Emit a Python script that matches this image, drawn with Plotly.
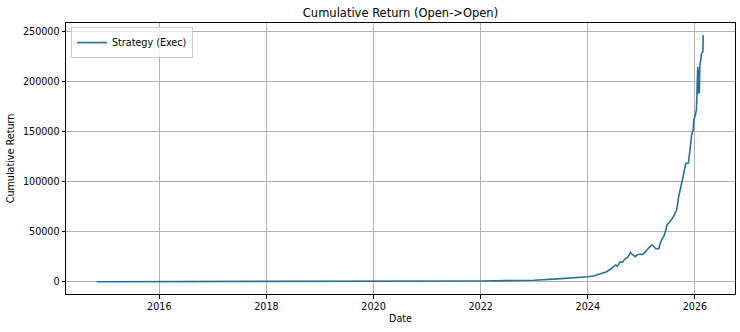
import plotly.graph_objects as go

dates = [
    "2014-10-31", "2015-06-01", "2016-01-01", "2017-01-01", "2018-01-01",
    "2019-01-01", "2020-01-01", "2021-01-01", "2022-01-01", "2022-07-01",
    "2022-10-01", "2023-01-01", "2023-05-15", "2023-10-01", "2024-01-01",
    "2024-02-09", "2024-03-28", "2024-04-08", "2024-05-10", "2024-06-05",
    "2024-06-27", "2024-07-08", "2024-07-22", "2024-08-10", "2024-08-24",
    "2024-09-15", "2024-09-30", "2024-10-18", "2024-11-02", "2024-11-20",
    "2024-12-04", "2024-12-26", "2025-01-08", "2025-01-30", "2025-02-20",
    "2025-03-14", "2025-03-25", "2025-04-09", "2025-04-30", "2025-05-08",
    "2025-05-22", "2025-06-02", "2025-06-13", "2025-06-24", "2025-07-05",
    "2025-07-20", "2025-07-31", "2025-08-14", "2025-08-29", "2025-09-12",
    "2025-10-01", "2025-10-12", "2025-10-30", "2025-11-17", "2025-11-28",
    "2025-12-09", "2025-12-20", "2025-12-24", "2026-01-04", "2026-01-11",
    "2026-01-20", "2026-01-24", "2026-01-27", "2026-01-31", "2026-02-03",
    "2026-02-15", "2026-02-24", "2026-02-26",
]
cum_return = [
    1, 2, 4, 12, 35,
    90, 200, 400, 750, 1050,
    1100, 1500, 2600, 3800, 5000,
    5700, 8000, 8400, 10000, 12700,
    16000, 16700, 15500, 20000, 19500,
    23400, 24500, 29400, 27000, 25000,
    27000, 27700, 27200, 30000, 34000,
    36700, 35700, 33000, 33000, 38000,
    43000, 45000, 50000, 56700, 58400,
    61000, 63400, 67000, 71700, 85000,
    100000, 105000, 118400, 118400, 131700,
    146700, 152000, 161700, 166700, 172000,
    215000, 188000, 212000, 188400, 215000,
    228400, 230000, 246700,
]

y_ticks = [0, 50000, 100000, 150000, 200000, 250000]
x_tick_dates = ["2016-01-01", "2018-01-01", "2020-01-01", "2022-01-01", "2024-01-01", "2026-01-01"]
x_tick_text = ["2016", "2018", "2020", "2022", "2024", "2026"]

FONT = "DejaVu Sans"
LINE_COLOR = "#2a6f98"

fig = go.Figure()
fig.add_trace(go.Scatter(
    x=dates, y=cum_return, mode="lines", name="Strategy (Exec)",
    line=dict(color=LINE_COLOR, width=1.6),
))

axis_common = dict(
    showline=True, mirror=True, linecolor="black", linewidth=1,
    ticks="outside", ticklen=3.5, tickwidth=0.8, tickcolor="black",
    showgrid=True, gridcolor="#b0b0b0", gridwidth=0.8,
    zeroline=False,
    tickfont=dict(family=FONT, size=9.6, color="black"),
)

fig.update_layout(
    width=740, height=332,
    margin=dict(l=66, r=5, t=23, b=38),
    paper_bgcolor="white", plot_bgcolor="white",
    font=dict(family=FONT, size=9.6, color="black"),
    title=dict(
        text="Cumulative Return (Open->Open)",
        x=0.5, xref="paper", xanchor="center",
        y=1 - 12.5 / 332, yref="container", yanchor="middle",
        font=dict(family=FONT, size=11.5, color="black"),
    ),
    xaxis=dict(
        **axis_common,
        type="date",
        range=["2014-04-05", "2026-10-01"],
        tickvals=x_tick_dates, ticktext=x_tick_text,
        title=dict(text="Date", standoff=4, font=dict(family=FONT, size=9.6, color="black")),
    ),
    yaxis=dict(
        **axis_common,
        range=[-12300, 258700],
        tickvals=y_ticks, ticktext=[str(v) for v in y_ticks],
        title=dict(text="Cumulative Return", standoff=6, font=dict(family=FONT, size=9.6, color="black")),
    ),
    showlegend=True,
    legend=dict(
        x=0.0075, y=0.985, xanchor="left", yanchor="top",
        bgcolor="rgba(255,255,255,0.8)", bordercolor="#cccccc", borderwidth=1,
        font=dict(family=FONT, size=9.6, color="black"),
        itemwidth=30,
    ),
)

fig.write_html("out.html")
